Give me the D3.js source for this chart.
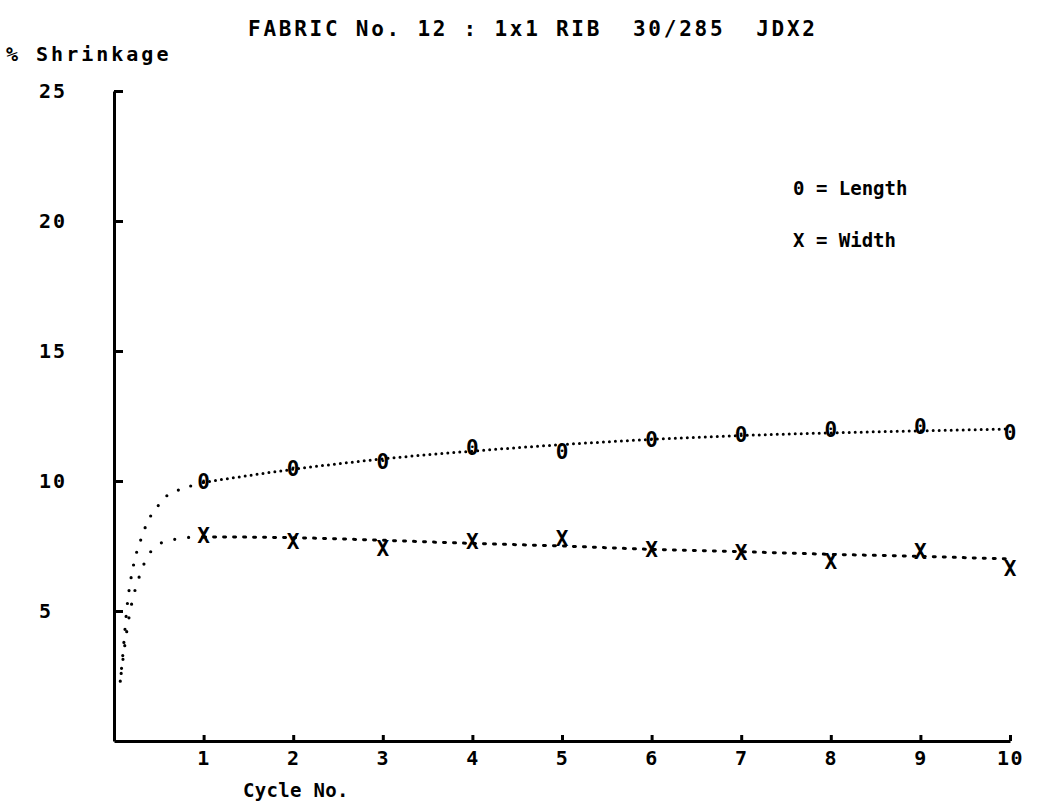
<!DOCTYPE html>
<html>
<head>
<meta charset="utf-8">
<script src="https://cdn.jsdelivr.net/npm/d3@7/dist/d3.min.js"></script>
<style>
  html, body { margin: 0; padding: 0; background: #fff; }
  svg { display: block; }
  text { font-family: "DejaVu Sans Mono", monospace; font-weight: bold; fill: #000; white-space: pre; }
</style>
</head>
<body>
<svg id="chart" width="1045" height="809"></svg>
<script>
// Shrinkage per wash cycle, fabric No. 12
const cycles = [1, 2, 3, 4, 5, 6, 7, 8, 9, 10];
const lengthValues = [10.0, 10.5, 10.75, 11.3, 11.15, 11.6, 11.8, 12.0, 12.1, 11.85];
const widthValues  = [7.9, 7.67, 7.4, 7.67, 7.8, 7.35, 7.25, 6.9, 7.28, 6.65];

// Fitted trend curves (rise from the origin, then the trend across cycles)
const lengthRiseX = [0.07, 0.09, 0.15, 0.22, 0.30, 0.365, 0.435, 0.51, 0.57, 0.64, 0.77, 0.85, 1.0];
const lengthRiseY = [2.3, 3.0, 5.3, 6.8, 7.75, 8.35, 8.8, 9.12, 9.37, 9.55, 9.7, 9.8, 9.95];
const lengthTrendX = [1, 2, 3, 4, 5, 6, 7, 8, 9, 10];
const lengthTrendY = [9.95, 10.45, 10.85, 11.15, 11.4, 11.6, 11.75, 11.85, 11.93, 12.0];

const widthRiseX = [0.08, 0.16, 0.30, 0.36, 0.51, 0.57, 0.71, 0.8, 1.0];
const widthRiseY = [2.6, 4.6, 6.5, 7.0, 7.58, 7.69, 7.77, 7.82, 7.85];
const widthTrendX = [1, 2, 3, 4, 5, 6, 7, 8, 9, 10];
const widthTrendY = [7.85, 7.82, 7.72, 7.6, 7.5, 7.37, 7.28, 7.18, 7.1, 7.0];

const xTicks = [1, 2, 3, 4, 5, 6, 7, 8, 9, 10];
const yTicks = [5, 10, 15, 20, 25];

const titleText = "FABRIC No. 12 : 1x1 RIB  30/285  JDX2";
const yLabel = "% Shrinkage";
const xLabel = "Cycle No.";
const legendItems = [
  { mark: "0", label: "Length" },
  { mark: "X", label: "Width" }
];

const svg = d3.select("#chart");
const x = d3.scaleLinear().domain([0, 10]).range([114, 1010]);
const y = d3.scaleLinear().domain([0, 25]).range([741, 91]);

// Title and axis captions
svg.append("text")
  .attr("x", 248).attr("y", 36)
  .attr("font-size", 21)
  .attr("textLength", 567).attr("lengthAdjust", "spacing")
  .text(titleText);

svg.append("text")
  .attr("x", 6).attr("y", 61)
  .attr("font-size", 20)
  .attr("letter-spacing", 3)
  .text(yLabel);

svg.append("text")
  .attr("x", 243).attr("y", 797)
  .attr("font-size", 19)
  .attr("letter-spacing", 0.3)
  .text(xLabel);

// Y axis: inward ticks, labels set flush-left at the page margin
const yAxis = svg.append("g")
  .attr("transform", `translate(${x(0)},0)`)
  .call(d3.axisLeft(y).tickValues(yTicks).tickSize(-9).tickSizeOuter(0).tickFormat(d3.format("d")));
yAxis.select(".domain").attr("stroke", "#000").attr("stroke-width", 3);
yAxis.selectAll(".tick line").attr("stroke", "#000").attr("stroke-width", 3);
yAxis.selectAll(".tick text")
  .attr("x", 39 - x(0))
  .attr("text-anchor", "start")
  .attr("font-size", 20)
  .attr("letter-spacing", 2)
  .attr("font-family", null);

// X axis: short upward ticks
const xAxis = svg.append("g")
  .attr("transform", `translate(0,${y(0)})`)
  .call(d3.axisBottom(x).tickValues(xTicks).tickSize(-6).tickSizeOuter(0).tickPadding(10).tickFormat(d3.format("d")));
xAxis.select(".domain").attr("stroke", "#000").attr("stroke-width", 3);
xAxis.selectAll(".tick line").attr("stroke", "#000").attr("stroke-width", 3);
xAxis.selectAll(".tick text")
  .attr("font-size", 20)
  .attr("letter-spacing", 1.5)
  .attr("font-family", null);

// Fitted curves
const curveLine = d3.line().x(d => x(d[0])).y(d => y(d[1])).curve(d3.curveMonotoneX);
const pairs = (xs, ys) => xs.map((v, i) => [v, ys[i]]);

function drawCurve(points, dash, width) {
  svg.append("path")
    .attr("d", curveLine(points))
    .attr("fill", "none")
    .attr("stroke", "#000")
    .attr("stroke-width", width)
    .attr("stroke-linecap", "round")
    .attr("stroke-dasharray", dash);
}

drawCurve(pairs(lengthRiseX, lengthRiseY), "0 13", 3.2);
drawCurve(pairs(lengthTrendX, lengthTrendY), "0 6", 3);
drawCurve(pairs(widthRiseX, widthRiseY), "0 14", 3.2);
drawCurve(pairs(widthTrendX, widthTrendY), "2 8", 3);

// Data markers
function drawMarks(values, glyph) {
  svg.append("g").selectAll("text")
    .data(values)
    .join("text")
    .attr("x", (d, i) => x(cycles[i]))
    .attr("y", d => y(d))
    .attr("dy", "0.36em")
    .attr("text-anchor", "middle")
    .attr("font-size", 21)
    .attr("font-family", "DejaVu Sans, sans-serif")
    .text(glyph);
}
drawMarks(lengthValues, "0");
drawMarks(widthValues, "X");

// Legend
const legend = svg.append("g");
legendItems.forEach((item, i) => {
  legend.append("text")
    .attr("x", 793).attr("y", 195 + i * 52)
    .attr("font-size", 19)
    .text(`${item.mark} = ${item.label}`);
});
</script>
</body>
</html>
